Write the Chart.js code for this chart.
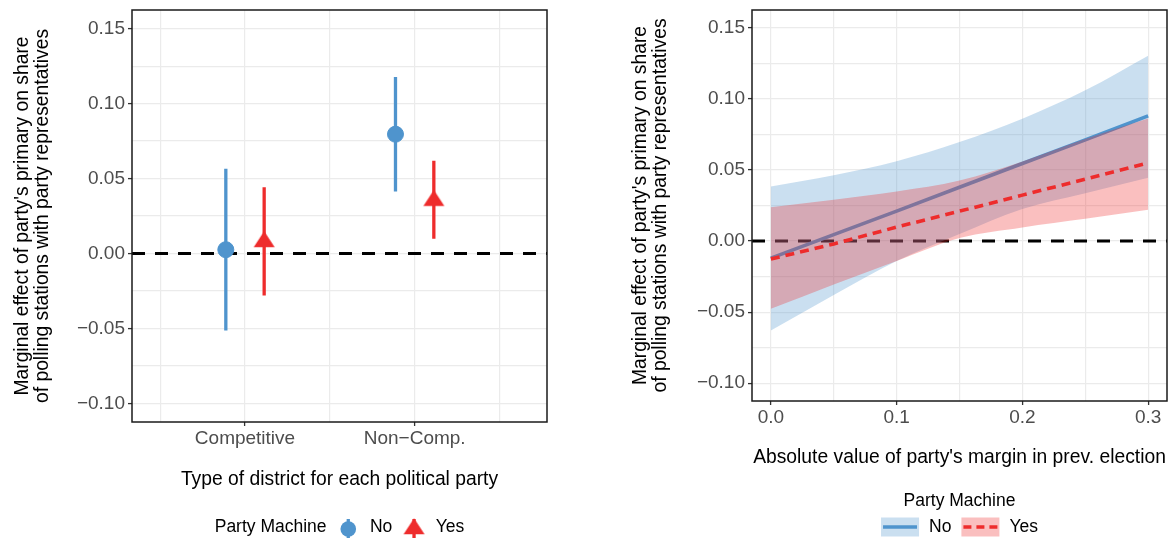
<!DOCTYPE html>
<html>
<head>
<meta charset="utf-8">
<script src="https://cdn.jsdelivr.net/npm/chart.js@4.4.1/dist/chart.umd.min.js"></script>
<style>
  html, body { margin: 0; padding: 0; background: #fff; }
  #wrap { position: relative; width: 1174px; height: 538px; }
  #pointChart { position: absolute; left: 0; top: 0; }
  #lineChart { position: absolute; left: 590px; top: 0; }
</style>
</head>
<body>
<div id="wrap">
  <canvas id="pointChart" width="590" height="538"></canvas>
  <canvas id="lineChart" width="584" height="538"></canvas>
</div>
<script>
// ---- data ----
const categories = ['Competitive', 'Non\u2212Comp.'];
const groups = ['No', 'Yes'];

// left panel: point estimate and interval per district type
const estNo   = [0.0025, 0.0796];
const lowNo   = [-0.0514, 0.0413];
const highNo  = [0.0566, 0.1177];
const estYes  = [0.0077, 0.0352];
const lowYes  = [-0.0281, 0.0098];
const highYes = [0.0442, 0.0619];

// right panel: fitted effect and band over previous margin
const margin  = [0, 0.05, 0.10, 0.15, 0.20, 0.25, 0.30];
const fitNo   = [-0.0120, 0.0045, 0.0210, 0.0378, 0.0545, 0.0712, 0.0880];
const lowBandNo  = [-0.0630, -0.0380, -0.0140, 0.0050, 0.0226, 0.0337, 0.0446];
const highBandNo = [0.0383, 0.0463, 0.0562, 0.0697, 0.0861, 0.1060, 0.1304];
const fitYes  = [-0.0127, -0.0020, 0.0098, 0.0210, 0.0323, 0.0435, 0.0549];
const lowBandYes  = [-0.0477, -0.0305, -0.0140, 0.0021, 0.0096, 0.0156, 0.0220];
const highBandYes = [0.0238, 0.0290, 0.0348, 0.0425, 0.0560, 0.0718, 0.0862];

// ticks
const yTicks = [-0.10, -0.05, 0, 0.05, 0.10, 0.15];
const yTickLabels = ['\u22120.10', '\u22120.05', '0.00', '0.05', '0.10', '0.15'];
const xTicks = [0, 0.1, 0.2, 0.3];
const xTickLabels = ['0.0', '0.1', '0.2', '0.3'];

const yTitle = ["Marginal effect of party's primary on share",
                "of polling stations with party representatives"];

// ---- styling ----
const FONT = '"Liberation Sans", Arial, Helvetica, sans-serif';
Chart.defaults.font.family = FONT;
const blue = 'rgb(79,148,205)';
const red = 'rgb(238,44,44)';
const blueBand = 'rgba(79,148,205,0.3)';
const redBand = 'rgba(238,44,44,0.3)';
const gridColor = '#EBEBEB';
const tickFont = { family: FONT, size: 19 };
const titleFont = { family: FONT, size: 19.3, lineHeight: 1.0 };
const legendFont = '17.5px ' + FONT;

const yMin = -0.1125, yMax = 0.1625;
const catPos = [1, 2];
const catMin = 0.334, catMax = 2.78;
const dodge = 0.113;
const xMin = -0.015, xMax = 0.315;

function gridValues(major, min, max) {
  const half = (major[1] - major[0]) / 2;
  const out = [];
  for (let k = 0; k < 200; k++) {
    const v = +(major[0] - 2 * half + k * half).toFixed(6);
    if (v > max + 1e-9) break;
    if (v >= min - 1e-9) out.push(v);
  }
  return out;
}
const isMajor = (v, major) => major.some(m => Math.abs(m - v) < 1e-6);
function tickLabel(v, major, labels) {
  const i = major.findIndex(m => Math.abs(m - v) < 1e-6);
  return i < 0 ? '' : labels[i];
}

function gridOpts(major) {
  return {
    color: gridColor, lineWidth: 1.2, drawTicks: true, tickLength: 4, tickWidth: 1.3,
    tickColor: c => (c.tick && isMajor(c.tick.value, major)) ? '#333333' : 'rgba(0,0,0,0)'
  };
}

function yScale(titlePad, width) {
  return {
    type: 'linear', min: yMin, max: yMax,
    afterBuildTicks: s => { s.ticks = gridValues(yTicks, yMin, yMax).map(v => ({ value: v })); },
    afterFit: s => { s.width = width; s.paddingTop = 0; s.paddingBottom = 0; },
    grid: gridOpts(yTicks),
    border: { display: false },
    ticks: { autoSkip: false, padding: 3, color: '#4D4D4D', font: tickFont,
             callback: v => tickLabel(v, yTicks, yTickLabels) },
    title: { display: true, text: yTitle, color: '#000', font: titleFont,
             padding: { top: titlePad, bottom: 0 } }
  };
}

const frame = {
  id: 'frame',
  afterDraw(chart) {
    const { ctx, chartArea: a } = chart;
    ctx.save();
    ctx.strokeStyle = '#1a1a1a';
    ctx.lineWidth = 1.5;
    ctx.strokeRect(a.left, a.top, a.right - a.left, a.bottom - a.top);
    ctx.restore();
  }
};

// triangle marker centred on its centroid
function triangleMarker(w, h, color) {
  const H = Math.ceil(h * 4 / 3) + 2;
  const c = document.createElement('canvas');
  c.width = w + 2; c.height = H;
  const g = c.getContext('2d');
  const top = H / 2 - h * 2 / 3;
  g.fillStyle = color;
  g.beginPath();
  g.moveTo(c.width / 2, top);
  g.lineTo(c.width / 2 + w / 2, top + h);
  g.lineTo(c.width / 2 - w / 2, top + h);
  g.closePath();
  g.fill();
  return c;
}
const tri = triangleMarker(21, 16, red);

function errorBars(low, high, shift) {
  const pts = [];
  categories.forEach((c, i) => {
    const x = catPos[i] + shift;
    if (i) pts.push({ x: x, y: null });
    pts.push({ x: x, y: low[i] }, { x: x, y: high[i] });
  });
  return pts;
}
const points = (est, shift) => categories.map((c, i) => ({ x: catPos[i] + shift, y: est[i] }));

const pointLegend = {
  id: 'pointLegend',
  afterDraw(chart) {
    const { ctx, chartArea: a } = chart;
    ctx.save();
    ctx.font = legendFont;
    ctx.textBaseline = 'middle';
    ctx.textAlign = 'left';
    const title = 'Party Machine';
    const tw = ctx.measureText(title).width;
    const w0 = ctx.measureText(groups[0]).width;
    const w1 = ctx.measureText(groups[1]).width;
    const gap = 21.7;
    const total = tw + 2 * gap + w0 + 2 * gap + w1;
    let x = (a.left + a.right) / 2 - total / 2;
    const y = 527.5;
    ctx.fillStyle = '#000';
    ctx.fillText(title, x, y);
    x += tw + gap;
    // No key: point with range
    ctx.strokeStyle = blue; ctx.lineWidth = 3.3;
    ctx.beginPath(); ctx.moveTo(x, 519); ctx.lineTo(x, 538); ctx.stroke();
    ctx.fillStyle = blue;
    ctx.beginPath(); ctx.arc(x, 529, 7.8, 0, Math.PI * 2); ctx.fill();
    x += gap;
    ctx.fillStyle = '#000';
    ctx.fillText(groups[0], x, y);
    x += w0 + gap;
    // Yes key
    ctx.strokeStyle = red;
    ctx.beginPath(); ctx.moveTo(x, 519); ctx.lineTo(x, 538); ctx.stroke();
    ctx.drawImage(tri, x - tri.width / 2, 529 - tri.height / 2);
    x += gap;
    ctx.fillStyle = '#000';
    ctx.fillText(groups[1], x, y);
    ctx.restore();
  }
};

new Chart(document.getElementById('pointChart'), {
  type: 'scatter',
  data: {
    datasets: [
      { label: 'zero', data: [{ x: catMin, y: 0 }, { x: catMax, y: 0 }], showLine: true,
        borderColor: '#000', borderWidth: 3, borderDash: [13, 10], pointRadius: 0, order: 10 },
      { label: groups[0] + ' range', data: errorBars(lowNo, highNo, -dodge), showLine: true,
        borderColor: blue, borderWidth: 3.3, pointRadius: 0, order: 6 },
      { label: groups[0], data: points(estNo, -dodge), pointStyle: 'circle', pointRadius: 8,
        backgroundColor: blue, borderColor: blue, borderWidth: 1, order: 5 },
      { label: groups[1] + ' range', data: errorBars(lowYes, highYes, dodge), showLine: true,
        borderColor: red, borderWidth: 3.3, pointRadius: 0, order: 4 },
      { label: groups[1], data: points(estYes, dodge), pointStyle: tri, pointRadius: 8,
        backgroundColor: red, borderColor: red, order: 3 }
    ]
  },
  options: {
    responsive: false,
    animation: false,
    layout: { padding: { left: 0, top: 10, right: 43, bottom: 40 } },
    plugins: { legend: { display: false }, tooltip: { enabled: false } },
    scales: {
      x: {
        type: 'linear', min: catMin, max: catMax,
        afterBuildTicks: s => { s.ticks = gridValues(catPos, catMin, catMax).map(v => ({ value: v })); },
        afterFit: s => { s.height = 76; s.paddingLeft = 0; s.paddingRight = 0; },
        grid: gridOpts(catPos),
        border: { display: false },
        ticks: { autoSkip: false, maxRotation: 0, padding: 1, color: '#4D4D4D', font: tickFont,
                 callback: v => tickLabel(v, catPos, categories) },
        title: { display: true, text: 'Type of district for each political party', color: '#000',
                 font: titleFont, padding: { top: 0, bottom: 8.5 } }
      },
      y: yScale(13.5, 132)
    }
  },
  plugins: [frame, pointLegend]
});

const pts = (xs, ys) => xs.map((x, i) => ({ x: x, y: ys[i] }));

const bandLegend = {
  id: 'bandLegend',
  afterDraw(chart) {
    const { ctx, chartArea: a } = chart;
    const cx = (a.left + a.right) / 2;
    ctx.save();
    ctx.font = legendFont;
    ctx.fillStyle = '#000';
    ctx.textBaseline = 'middle';
    ctx.textAlign = 'center';
    ctx.fillText('Party Machine', cx, 501);
    ctx.textAlign = 'left';
    const keyW = 38, keyH = 19, gap = 10;
    const w0 = ctx.measureText(groups[0]).width;
    const w1 = ctx.measureText(groups[1]).width;
    const total = keyW + gap + w0 + gap + keyW + gap + w1;
    let x = cx - total / 2;
    const y = 527;
    ctx.fillStyle = blueBand;
    ctx.fillRect(x, y - keyH / 2, keyW, keyH);
    ctx.strokeStyle = blue; ctx.lineWidth = 3.4;
    ctx.beginPath(); ctx.moveTo(x + 2, y); ctx.lineTo(x + keyW - 2, y); ctx.stroke();
    x += keyW + gap;
    ctx.fillStyle = '#000';
    ctx.fillText(groups[0], x, y + 0.5);
    x += w0 + gap;
    ctx.fillStyle = redBand;
    ctx.fillRect(x, y - keyH / 2, keyW, keyH);
    ctx.strokeStyle = red; ctx.setLineDash([8, 5]);
    ctx.beginPath(); ctx.moveTo(x + 2, y); ctx.lineTo(x + keyW - 2, y); ctx.stroke();
    ctx.setLineDash([]);
    x += keyW + gap;
    ctx.fillStyle = '#000';
    ctx.fillText(groups[1], x, y + 0.5);
    ctx.restore();
  }
};

const edge = { borderColor: 'rgba(0,0,0,0)', borderWidth: 0, pointRadius: 0, cubicInterpolationMode: 'monotone' };

new Chart(document.getElementById('lineChart'), {
  type: 'line',
  data: {
    datasets: [
      { label: 'zero', data: [{ x: xMin, y: 0 }, { x: xMax, y: 0 }],
        borderColor: '#000', borderWidth: 3, borderDash: [13, 10], pointRadius: 0, order: 10 },
      Object.assign({ label: 'No low', data: pts(margin, lowBandNo), fill: false, order: 9 }, edge),
      Object.assign({ label: 'No high', data: pts(margin, highBandNo), fill: '-1',
                      backgroundColor: blueBand, order: 8 }, edge),
      { label: groups[0], data: pts(margin, fitNo), borderColor: blue, borderWidth: 3.6,
        pointRadius: 0, order: 7 },
      Object.assign({ label: 'Yes low', data: pts(margin, lowBandYes), fill: false, order: 6 }, edge),
      Object.assign({ label: 'Yes high', data: pts(margin, highBandYes), fill: '-1',
                      backgroundColor: redBand, order: 5 }, edge),
      { label: groups[1], data: pts(margin, fitYes), borderColor: red, borderWidth: 3.6,
        borderDash: [9, 6], pointRadius: 0, order: 4 }
    ]
  },
  options: {
    responsive: false,
    animation: false,
    layout: { padding: { left: 0, top: 10, right: 7, bottom: 58 } },
    plugins: { legend: { display: false }, tooltip: { enabled: false } },
    scales: {
      x: {
        type: 'linear', min: xMin, max: xMax,
        afterBuildTicks: s => { s.ticks = gridValues(xTicks, xMin, xMax).map(v => ({ value: v })); },
        afterFit: s => { s.height = 79; s.paddingLeft = 0; s.paddingRight = 0; },
        grid: gridOpts(xTicks),
        border: { display: false },
        ticks: { autoSkip: false, maxRotation: 0, padding: 1, color: '#4D4D4D', font: tickFont,
                 callback: v => tickLabel(v, xTicks, xTickLabels) },
        title: { display: true, text: "Absolute value of party's margin in prev. election", color: '#000',
                 font: titleFont, padding: { top: 0, bottom: 12.5 } }
      },
      y: yScale(41.5, 162)
    }
  },
  plugins: [frame, bandLegend]
});
</script>
</body>
</html>
